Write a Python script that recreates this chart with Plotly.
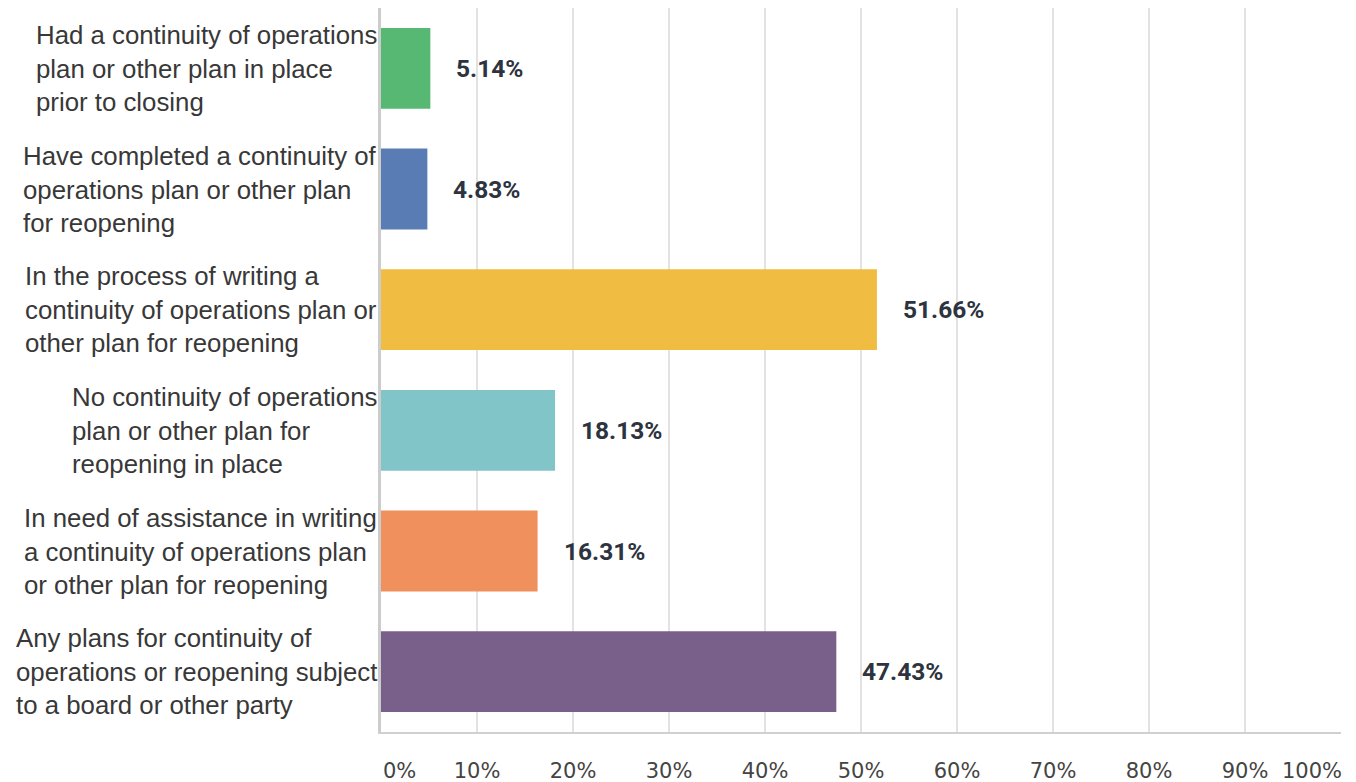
import plotly.graph_objects as go

categories = [
    "Had a continuity of operations<br>plan or other plan in place<br>prior to closing",
    "Have completed a continuity of<br>operations plan or other plan<br>for reopening",
    "In the process of writing a<br>continuity of operations plan or<br>other plan for reopening",
    "No continuity of operations<br>plan or other plan for<br>reopening in place",
    "In need of assistance in writing<br>a continuity of operations plan<br>or other plan for reopening",
    "Any plans for continuity of<br>operations or reopening subject<br>to a board or other party",
]
values = [5.14, 4.83, 51.66, 18.13, 16.31, 47.43]
colors = ["#57b873", "#5a7cb4", "#f0bc42", "#82c5c9", "#f0905d", "#79608b"]
tick_values = [0, 10, 20, 30, 40, 50, 60, 70, 80, 90, 100]
tick_labels = ["0%", "10%", "20%", "30%", "40%", "50%", "60%", "70%", "80%", "90%", "100%"]

ids = list(range(len(categories)))

fig = go.Figure()
fig.add_trace(go.Bar(
    x=values, y=ids, orientation="h",
    marker=dict(color=colors, line=dict(width=0)),
    hoverinfo="skip",
))

tick_font = dict(family="DejaVu Sans, sans-serif", size=21, color="#444444")

annotations = []
for i, (c, v) in enumerate(zip(categories, values)):
    annotations.append(dict(
        x=0, xref="paper", y=i, yref="y", text=c, showarrow=False,
        xanchor="right", align="left", yanchor="middle", xshift=-2,
        font=dict(family="Liberation Sans, Arial, sans-serif", size=25.8, color="#383838"),
    ))
    annotations.append(dict(
        x=v, xref="x", y=i, yref="y", text=f"{v:.2f}%", showarrow=False,
        xanchor="left", yanchor="middle", xshift=24,
        font=dict(family="Roboto, sans-serif", size=24.5, color="#2e3340", weight="bold"),
    ))

# end tick labels, shifted inward as in the reference
annotations.append(dict(
    x=tick_values[0], xref="x", y=0, yref="paper", text=tick_labels[0], showarrow=False,
    xanchor="left", yanchor="top", yshift=-25,
    font=tick_font,
))
annotations.append(dict(
    x=tick_values[-1], xref="x", y=0, yref="paper", text=tick_labels[-1], showarrow=False,
    xanchor="right", yanchor="top", yshift=-25, xshift=3,
    font=tick_font,
))

mid_text = [""] + tick_labels[1:-1] + [""]

fig.update_layout(
    width=1348, height=774,
    margin=dict(l=373, r=15, t=0, b=50),
    paper_bgcolor="white", plot_bgcolor="white",
    bargap=0.33,
    showlegend=False,
    annotations=annotations,
    xaxis=dict(
        range=[0, 100], tickvals=tick_values, ticktext=mid_text,
        showgrid=True, gridcolor="#e2e2e2", gridwidth=2,
        zeroline=False, showline=True, linecolor="#d0d0d0", linewidth=2,
        ticks="", ticklabelstandoff=19, automargin=False,
        tickfont=tick_font,
        fixedrange=True,
    ),
    yaxis=dict(
        range=[len(categories) - 0.5, -0.5],
        showticklabels=False, showgrid=False, zeroline=False,
        showline=True, linecolor="#cccccc", linewidth=2.5, ticks="",
        automargin=False, fixedrange=True,
    ),
)

fig.write_html("out.html")
